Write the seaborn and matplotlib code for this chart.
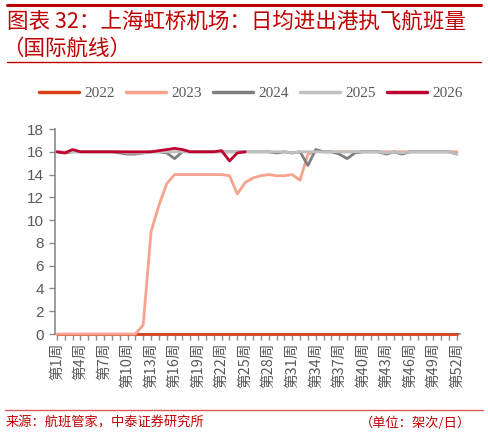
import numpy as np
import pandas as pd
import matplotlib
matplotlib.use("Agg")
import matplotlib.pyplot as plt
import seaborn as sns
from matplotlib.lines import Line2D

# ==============================
# 数据
# ==============================
weeks = list(range(1, 53))
week_labels = [f"第{w}周" for w in weeks]

v2022 = [0.0] * 52

v2023 = [0.0] * 11 + [0.8, 9.0, 11.3, 13.2, 14.0, 14.0, 14.0, 14.0, 14.0, 14.0,
                      14.0, 13.9, 12.3, 13.3, 13.7, 13.9, 14.0, 13.9, 13.9, 14.0,
                      13.5, 15.8, 16.0, 16.0, 16.0, 16.0, 16.0, 16.0, 16.0, 16.0,
                      16.0, 16.0, 16.0, 16.0, 16.0, 16.0, 16.0, 16.0, 16.0, 16.0,
                      16.0]

v2024 = [16.0, 15.9, 16.0, 16.0, 16.0, 16.0, 16.0, 16.0, 15.9, 15.8,
         15.8, 15.9, 16.0, 16.0, 15.9, 15.4, 16.0, 16.0, 16.0, 16.0,
         16.0, 16.0, 16.0, 16.0, 16.0, 16.0, 16.0, 16.0, 15.9, 16.0,
         15.9, 16.0, 14.8, 16.2, 16.0, 16.0, 15.8, 15.4, 15.9, 16.0,
         16.0, 16.0, 15.8, 16.0, 15.8, 16.0, 16.0, 16.0, 16.0, 16.0,
         16.0, 15.8]

v2025 = [16.0, 16.0, 16.0, 16.0, 16.0, 16.0, 16.0, 16.0, 16.0, 15.9,
         15.9, 15.9, 16.0, 16.0, 16.0, 16.0, 16.0, 16.0, 16.0, 16.0,
         16.0, 16.0, 16.0, 16.0, 16.0, 16.0, 16.0, 16.0, 16.0, 16.0,
         15.9, 16.0, 16.0, 16.0, 16.0, 16.0, 16.0, 16.0, 16.0, 16.0,
         16.0, 16.0, 15.9, 16.0, 15.9, 16.0, 16.0, 16.0, 16.0, 16.0,
         16.0, 15.8]

v2026 = [16.0, 15.9, 16.2, 16.0, 16.0, 16.0, 16.0, 16.0, 16.0, 16.0,
         16.0, 16.0, 16.0, 16.1, 16.2, 16.3, 16.2, 16.0, 16.0, 16.0,
         16.0, 16.1, 15.2, 15.9, 16.0]

years = ["2022", "2023", "2024", "2025", "2026"]
colors = {"2022": "#D8401C", "2023": "#F7A38E", "2024": "#7F7F7F",
          "2025": "#BFBFBF", "2026": "#C0002F"}

series = {"2022": v2022, "2023": v2023, "2024": v2024, "2025": v2025, "2026": v2026}
rows = []
for y in years:
    for w, v in zip(weeks, series[y]):
        rows.append({"周": w, "航班量": v, "年份": y})
df = pd.DataFrame(rows)

# ==============================
# 绘图
# ==============================
sns.set_style("white")
plt.rcParams['font.family'] = ['Noto Sans CJK SC', 'DejaVu Sans']

fig = plt.figure(figsize=(4.88, 4.33), dpi=100)
ax = fig.add_axes([0.1127, 0.2286, 0.83, 0.4734])

sns.lineplot(data=df, x="周", y="航班量", hue="年份", hue_order=years,
             palette=colors, linewidth=2.0, legend=False, ax=ax, sort=False)
# 线条画在坐标轴之上，避免 0 值线被遮住
for i, ln in enumerate(ax.get_lines()):
    ln.set_clip_on(False)
    ln.set_zorder(3 + i * 0.1)

ax.set_xlim(0.75, 52.4)
ax.set_ylim(0, 18)
ax.set_yticks(np.arange(0, 19, 2))
ax.set_xticks(weeks, minor=True)
ax.set_xticks(weeks[::3])
ax.set_xticklabels(week_labels[::3], rotation=90, fontsize=10.5, color="#595959")
ax.tick_params(axis="x", which="both", direction="out", length=4, width=1,
               color="#8C8C8C", pad=2, bottom=True)
ax.tick_params(axis="y", direction="out", length=4, width=1, color="#8C8C8C",
               left=True, labelsize=11, labelcolor="#595959", pad=4)
for lab in ax.get_yticklabels():
    lab.set_fontfamily(["Liberation Sans", "DejaVu Sans"])
ax.set_xlabel("")
ax.set_ylabel("")
for s in ["top", "right"]:
    ax.spines[s].set_visible(False)
for s in ["left", "bottom"]:
    ax.spines[s].set_color("#8C8C8C")
    ax.spines[s].set_linewidth(1.2)

# 图例
handles = [Line2D([], [], color=colors[y], linewidth=2.5) for y in years]
fig.legend(handles, years, loc="center", bbox_to_anchor=(0.514, 1 - 93 / 433),
           ncol=5, frameon=False, handlelength=2.6, handletextpad=0.35,
           columnspacing=0.75,
           prop={"family": "Liberation Serif", "size": 11}, labelcolor="#595959")

# 标题与装饰线
red = "#C00000"
fig.add_artist(Line2D([0.015, 0.985], [1 - 5 / 433] * 2, color=red, linewidth=2.2))
fig.add_artist(Line2D([0.015, 0.985], [1 - 62 / 433] * 2, color=red, linewidth=1.0))
fig.text(0.015, 1 - 22 / 433, "图表 32：上海虹桥机场：日均进出港执飞航班量",
         color=red, fontsize=15.5, style="italic", va="center", ha="left")
fig.text(0.005, 1 - 49 / 433, "（国际航线）",
         color=red, fontsize=15.5, style="italic", va="center", ha="left")

fig.add_artist(Line2D([0.01, 0.99], [1 - 410 / 433] * 2, color="#E05A5A", linewidth=1.0))
fig.text(0.012, 1 - 423 / 433, "来源：航班管家，中泰证券研究所", color=red,
         fontsize=9.5, va="center", ha="left")
fig.text(0.965, 1 - 423 / 433, "（单位：架次/日）", color=red,
         fontsize=9.5, va="center", ha="right")

fig.savefig("out.png", dpi=100)
